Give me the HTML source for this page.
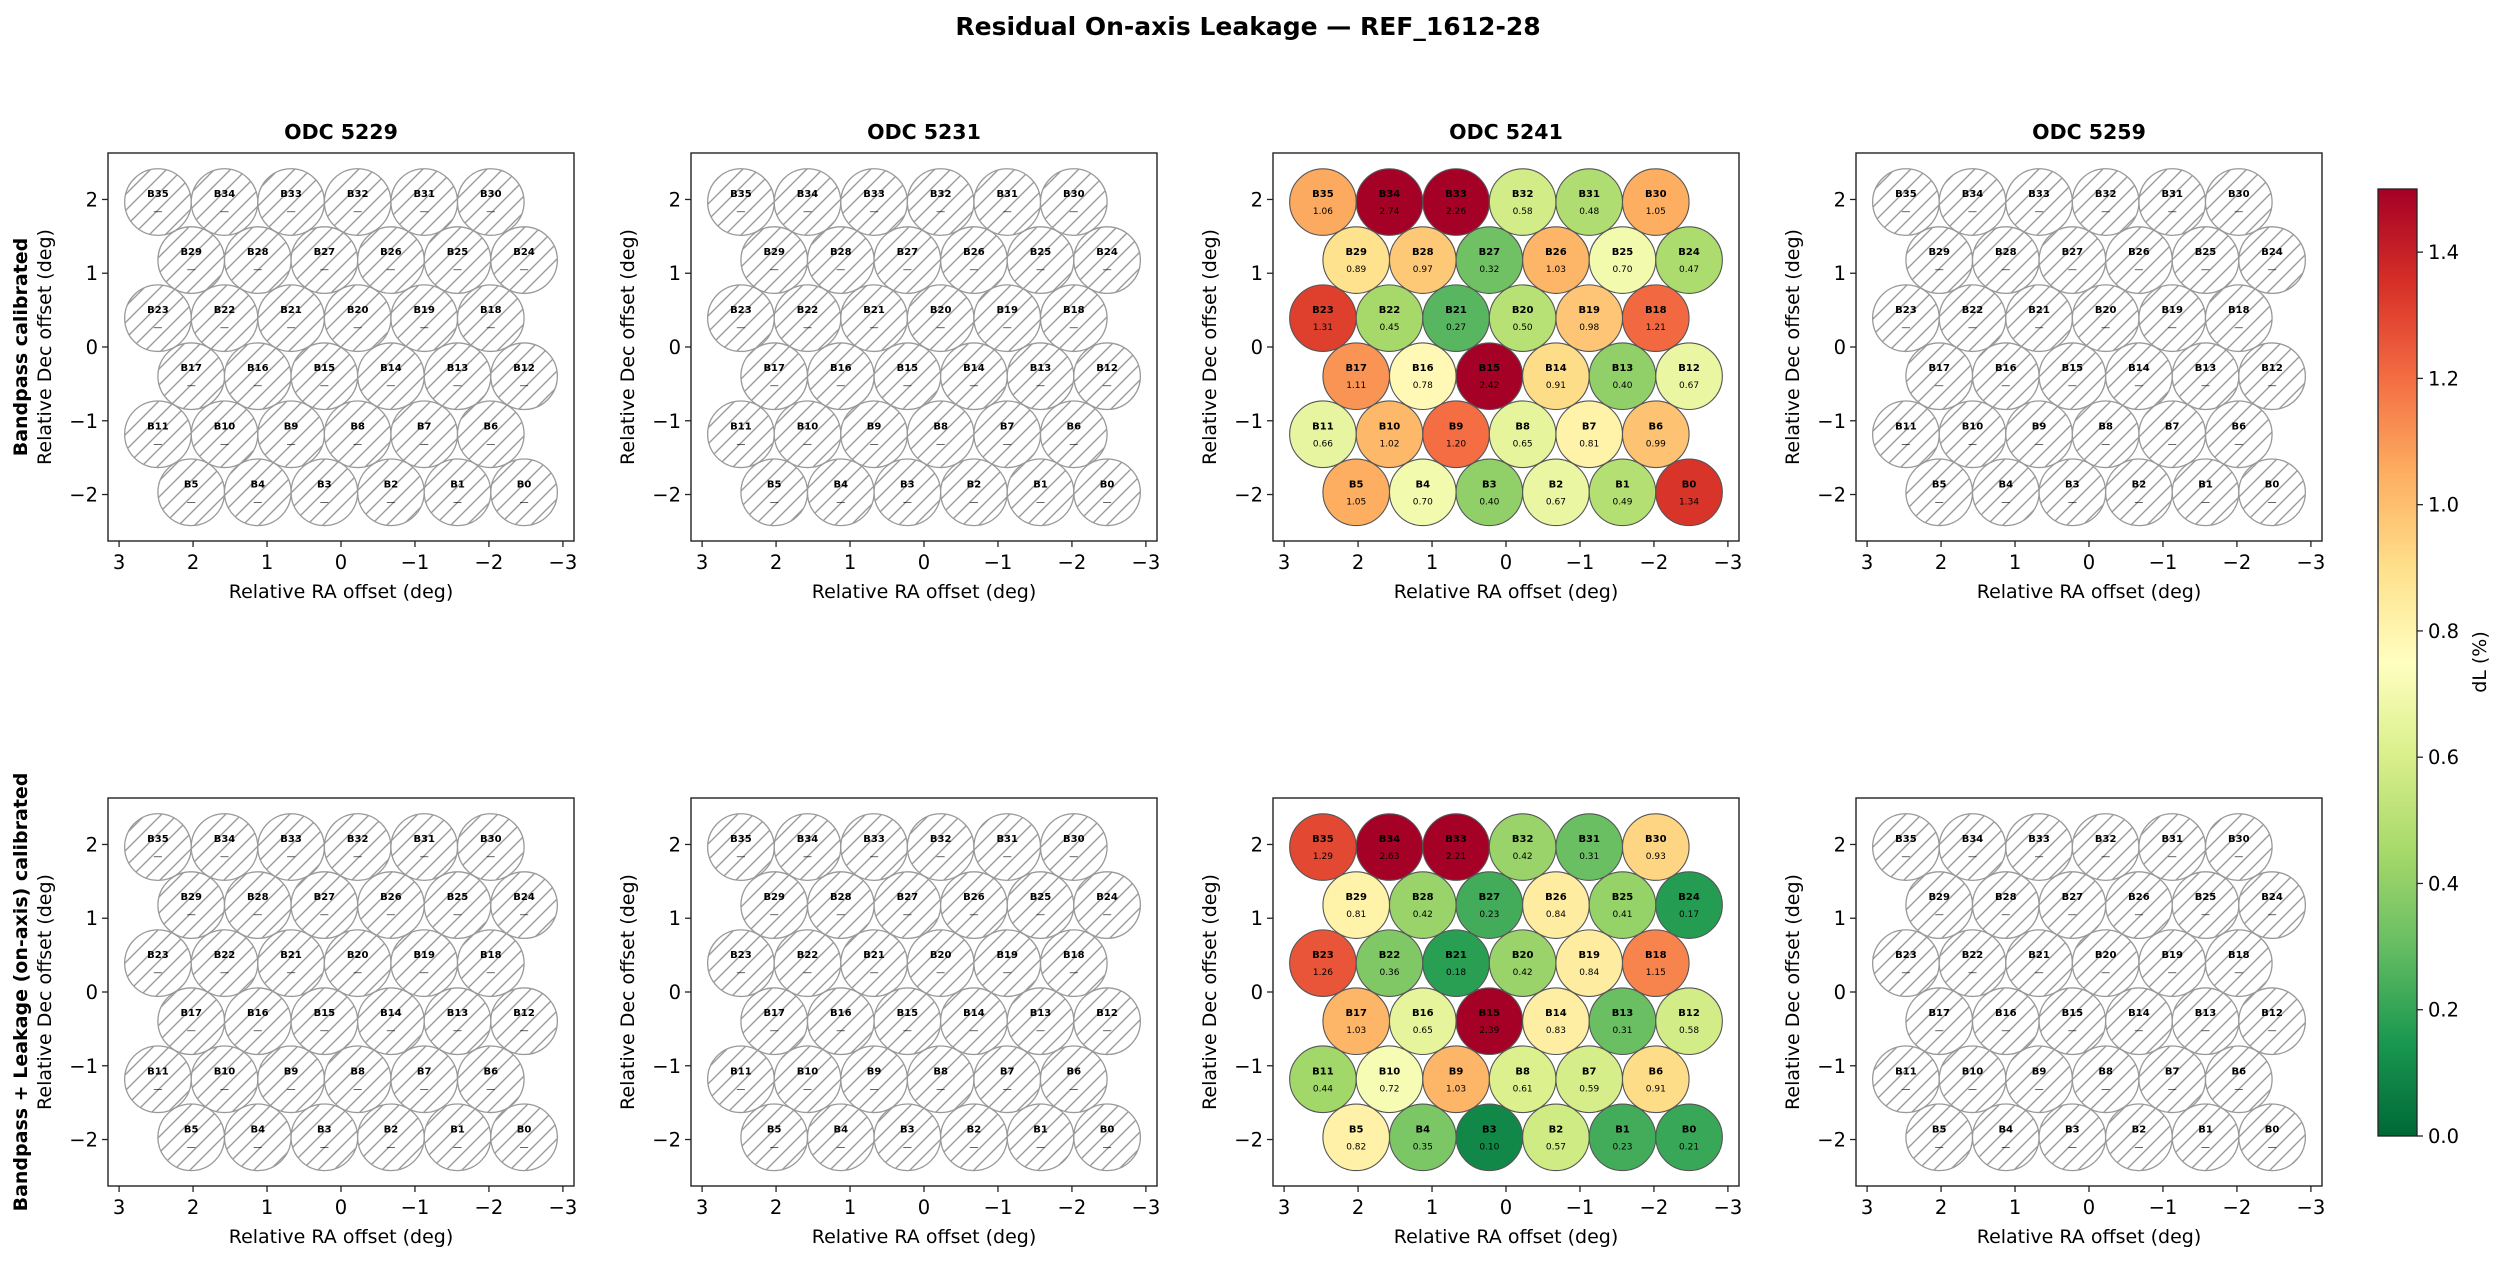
<!DOCTYPE html>
<html><head><meta charset="utf-8"><style>
html,body{margin:0;padding:0;background:#fff}
svg{display:block}
text{font-family:"DejaVu Sans","Liberation Sans",sans-serif}
</style></head><body>
<svg id="fig" width="2508" height="1264" viewBox="0 0 2508 1264" xmlns="http://www.w3.org/2000/svg">
<defs>
<pattern id="hatch" patternUnits="userSpaceOnUse" width="16" height="16">
<path d="M-2,18 L18,-2 M-8,8 L8,-8 M8,24 L24,8" stroke="#9a9a9a" stroke-width="1.4"/>
</pattern>
<linearGradient id="cbgrad" x1="0" y1="1" x2="0" y2="0">
<stop offset="0" stop-color="#006837"/><stop offset="0.1" stop-color="#1a9850"/><stop offset="0.2" stop-color="#66bd63"/><stop offset="0.3" stop-color="#a6d96a"/><stop offset="0.4" stop-color="#d9ef8b"/><stop offset="0.5" stop-color="#ffffbf"/><stop offset="0.6" stop-color="#fee08b"/><stop offset="0.7" stop-color="#fdae61"/><stop offset="0.8" stop-color="#f46d43"/><stop offset="0.9" stop-color="#d73027"/><stop offset="1" stop-color="#a50026"/>
</linearGradient>
</defs>
<text x="1248" y="35" text-anchor="middle" font-size="25" font-weight="bold">Residual On-axis Leakage — REF_1612-28</text>
</svg>
<script>
// Data (bands listed in display order B35 -> B0)
const odcs = ["ODC 5229","ODC 5231","ODC 5241","ODC 5259"];
const rowLabels = ["Bandpass calibrated","Bandpass + Leakage (on-axis) calibrated"];
const bandpassODC5241 = [1.06,2.74,2.26,0.58,0.48,1.05, 0.89,0.97,0.32,1.03,0.70,0.47, 1.31,0.45,0.27,0.50,0.98,1.21, 1.11,0.78,2.42,0.91,0.40,0.67, 0.66,1.02,1.20,0.65,0.81,0.99, 1.05,0.70,0.40,0.67,0.49,1.34];
const leakageODC5241 = [1.29,2.63,2.21,0.42,0.31,0.93, 0.81,0.42,0.23,0.84,0.41,0.17, 1.26,0.36,0.18,0.42,0.84,1.15, 1.03,0.65,2.39,0.83,0.31,0.58, 0.44,0.72,1.03,0.61,0.59,0.91, 0.82,0.35,0.10,0.57,0.23,0.21];
const xTicks = [3,2,1,0,-1,-2,-3];
const yTicks = [2,1,0,-1,-2];
const cbTicks = [0.0,0.2,0.4,0.6,0.8,1.0,1.2,1.4];
const vmin = 0, vmax = 1.5;

const panelData = [[null,null,bandpassODC5241,null],[null,null,leakageODC5241,null]];

const NS="http://www.w3.org/2000/svg";
const svg=document.getElementById('fig');
function mk(tag,attrs,parent){const e=document.createElementNS(NS,tag);for(const k in attrs)e.setAttribute(k,attrs[k]);(parent||svg).appendChild(e);return e;}

const cmapStops=["#006837","#1a9850","#66bd63","#a6d96a","#d9ef8b","#ffffbf","#fee08b","#fdae61","#f46d43","#d73027","#a50026"];
function hex(h){return [parseInt(h.substr(1,2),16),parseInt(h.substr(3,2),16),parseInt(h.substr(5,2),16)];}
function cmap(v){let t=(v-vmin)/(vmax-vmin);t=Math.max(0,Math.min(1,t));const p=t*10;const i=Math.min(9,Math.floor(p));const f=p-i;const a=hex(cmapStops[i]),b=hex(cmapStops[i+1]);return `rgb(${Math.round(a[0]+(b[0]-a[0])*f)},${Math.round(a[1]+(b[1]-a[1])*f)},${Math.round(a[2]+(b[2]-a[2])*f)})`;}

const panelLefts=[108,691,1273,1856];
const panelW=466;
const rowTops=[153,798];
const panelH=388;
const XL=3.15, YL=2.63;

for(let r=0;r<2;r++){
  for(let c=0;c<4;c++){
    const L=panelLefts[c],T=rowTops[r];
    const sx=x=>L+(XL-x)/(2*XL)*panelW;
    const sy=y=>T+(YL-y)/(2*YL)*panelH;
    const scale=panelW/(2*XL);
    const g=mk('g',{});
    
    
    const data=panelData[r][c];
    for(let i=0;i<36;i++){
      const row=Math.floor(i/6),col=i%6;
      const dx=2.475-0.9*col-(row%2?0.45:0);
      const dy=1.965-0.787*row;
      const cx=sx(dx),cy=sy(dy),rad=0.45*scale;
      const band='B'+(35-i);
      const cg=mk('g',{},g);
      
      
      if(data){
        mk('circle',{cx:cx,cy:cy,r:rad,fill:cmap(data[i]),stroke:'#555','stroke-width':1.1},cg);
      }else{
        mk('circle',{cx:cx,cy:cy,r:rad,fill:'#fff',stroke:'none'},cg);
        mk('circle',{cx:cx,cy:cy,r:rad,fill:'url(#hatch)',stroke:'#999','stroke-width':1.3},cg);
      }
      const t1=mk('text',{x:cx,y:cy-5,'text-anchor':'middle','font-size':10,'font-weight':'bold'},cg);t1.textContent=band;
      const t2=mk('text',{x:cx,y:cy+12,'text-anchor':'middle','font-size':9},cg);t2.textContent=data?data[i].toFixed(2):'—';
    }
    const fr=mk('rect',{x:L,y:T,width:panelW,height:panelH,fill:'none',stroke:'#222','stroke-width':1.4},g);
    
    
    xTicks.forEach(v=>{const x=sx(v);mk('line',{x1:x,y1:T+panelH,x2:x,y2:T+panelH+6,stroke:'#222','stroke-width':1.3},g);
      const t=mk('text',{x:x,y:T+panelH+28,'text-anchor':'middle','font-size':19.5},g);t.textContent=v<0?'−'+(-v):String(v);
      
      });
    yTicks.forEach(v=>{const y=sy(v);mk('line',{x1:L-6,y1:y,x2:L,y2:y,stroke:'#222','stroke-width':1.3},g);
      const t=mk('text',{x:L-10,y:y+7,'text-anchor':'end','font-size':19.5},g);t.textContent=v<0?'−'+(-v):String(v);
      
      });
    const xl=mk('text',{x:L+panelW/2,y:T+panelH+57,'text-anchor':'middle','font-size':19},g);xl.textContent='Relative RA offset (deg)';
    
    
    const yx=L-57,yc=T+panelH/2;
    const yl=mk('text',{x:yx,y:yc,'text-anchor':'middle','font-size':19,transform:`rotate(-90 ${yx} ${yc})`},g);yl.textContent='Relative Dec offset (deg)';
    
    
    if(r===0){const tt=mk('text',{x:L+panelW/2,y:T-14,'text-anchor':'middle','font-size':20.5,'font-weight':'bold'},g);tt.textContent=odcs[c];
      
      }
    if(c===0){const rx=27;const rl=mk('text',{x:rx,y:yc,'text-anchor':'middle','font-size':19,'font-weight':'bold',transform:`rotate(-90 ${rx} ${yc})`},g);rl.textContent=rowLabels[r];
      
      }
  }
}
// colorbar
const cbL=2378,cbW=39,cbT=189,cbB=1136;
const cb=mk('g',{});


mk('rect',{x:cbL,y:cbT,width:cbW,height:cbB-cbT,fill:'url(#cbgrad)',stroke:'#222','stroke-width':1.3},cb);
cbTicks.forEach(v=>{const y=cbB-(v-vmin)/(vmax-vmin)*(cbB-cbT);mk('line',{x1:cbL+cbW,y1:y,x2:cbL+cbW+6,y2:y,stroke:'#222','stroke-width':1.3},cb);
  const t=mk('text',{x:cbL+cbW+11,y:y+7,'font-size':19.5},cb);t.textContent=v.toFixed(1);
  
  });
const cl=mk('text',{x:2486,y:662,'text-anchor':'middle','font-size':19,transform:'rotate(-90 2486 662)'},cb);cl.textContent='dL  (%)';


</script>
</body></html>
